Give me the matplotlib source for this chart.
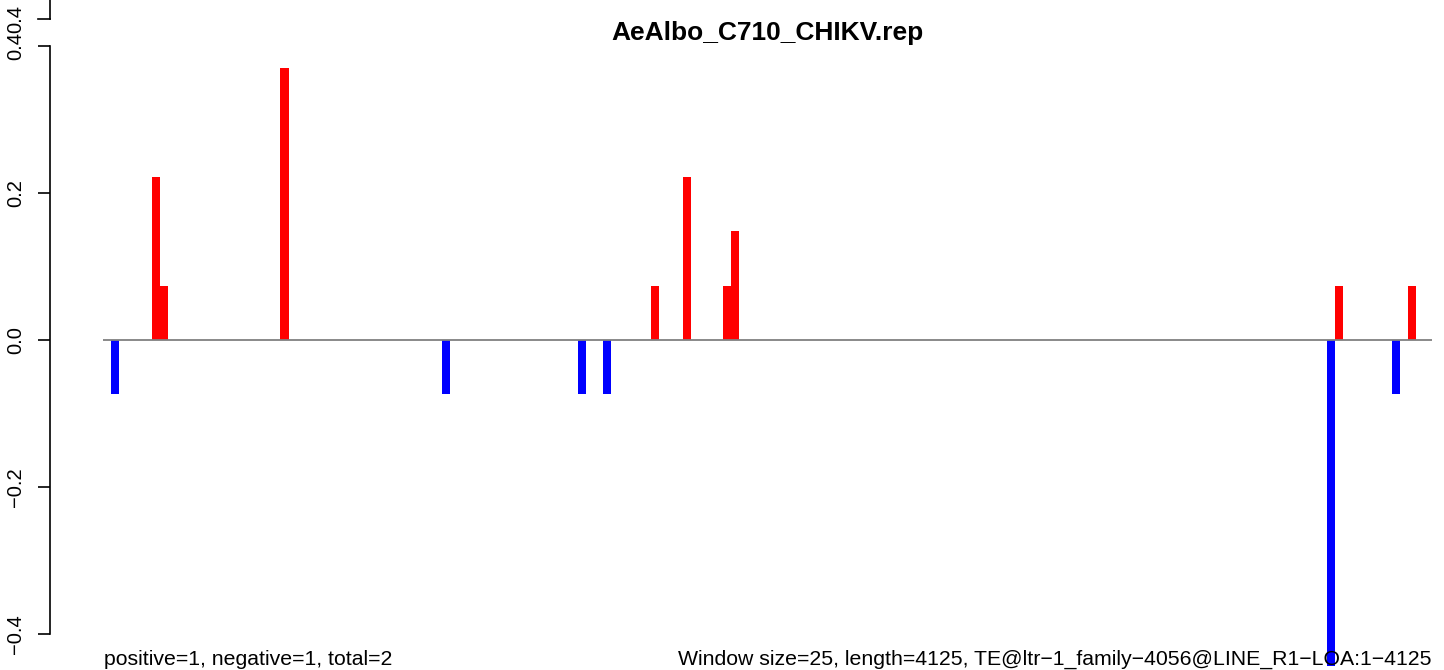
import matplotlib
matplotlib.use("Agg")
import matplotlib.pyplot as plt

plt.rcParams['font.family'] = ['Liberation Sans', 'DejaVu Sans']

# windows of 25 bp over a 4125 bp element
n_windows = 165
pos_idx = [6, 7, 22, 68, 72, 77, 78, 153, 162]
pos_val = [0.222, 0.074, 0.370, 0.074, 0.222, 0.074, 0.148, 0.074, 0.074]
neg_idx = [1, 42, 59, 62, 152, 160]
neg_val = [-0.074, -0.074, -0.074, -0.074, -0.443, -0.074]
ytick_vals = [-0.4, -0.2, 0.0, 0.2, 0.4]
ytick_labels = ["\u22120.4", "\u22120.2", "0.0", "0.2", "0.4"]

title = "AeAlbo_C710_CHIKV.rep"
left_note = "positive=1, negative=1, total=2"
right_note = ("Window size=25, length=4125, "
              "TE@ltr\u22121_family\u22124056@LINE_R1\u2212LOA:1\u22124125")

W, H = 1444, 670
fig = plt.figure(figsize=(W / 100, H / 100), dpi=100)
# plot region in pixels: x 103..1432, y 46..634
ax = fig.add_axes([103.3 / W, (H - 634) / H, (1432 - 103.3) / W, (634 - 46) / H])
ax.set_xlim(0, n_windows)
ax.set_ylim(-0.4, 0.4)

ax.bar(pos_idx, pos_val, width=1, align='edge', color='red', linewidth=0, clip_on=False)
ax.bar(neg_idx, neg_val, width=1, align='edge', color='blue', linewidth=0, clip_on=False)
ax.axhline(0, color='#808080', linewidth=1.3, zorder=3)

for s in ['top', 'right', 'bottom']:
    ax.spines[s].set_visible(False)
ax.spines['left'].set_position(('outward', 53.3 * 0.72))
ax.spines['left'].set_bounds(-0.4, 0.4)
ax.spines['left'].set_linewidth(1.2)
ax.set_xticks([])
ax.set_yticks(ytick_vals)
ax.tick_params(axis='y', length=12.3 * 0.72, width=1.2, labelleft=False)

ytrans = ax.get_yaxis_transform()
lab_x = (16 - 103.3) / (1432 - 103.3)
for v, lab in zip(ytick_vals, ytick_labels):
    ax.text(lab_x, v, lab, transform=ytrans, rotation=90, ha='center', va='center',
            fontsize=14.5, clip_on=False)

# stray second axis piece at the top edge
ax_x = (50 - 103.3) / (1432 - 103.3)
tk_x = (37.7 - 103.3) / (1432 - 103.3)
top_tick = 0.4367
ax.plot([ax_x, ax_x], [top_tick, 0.48], color='black', linewidth=1.2,
        transform=ytrans, clip_on=False)
ax.plot([tk_x, ax_x], [top_tick, top_tick], color='black', linewidth=1.2,
        transform=ytrans, clip_on=False)
ax.text(lab_x, top_tick, "0.4", transform=ytrans, rotation=90, ha='center', va='center',
        fontsize=14.5, clip_on=False)

fig.text(767.6 / W, 1 - 40 / H, title, ha='center', va='baseline',
         fontsize=19, fontweight='bold')
fig.text(104 / W, 1 - 665 / H, left_note, ha='left', va='baseline', fontsize=15.3)
fig.text(1432 / W, 1 - 665 / H, right_note, ha='right', va='baseline', fontsize=15.3)

fig.savefig("out.png", dpi=100)
